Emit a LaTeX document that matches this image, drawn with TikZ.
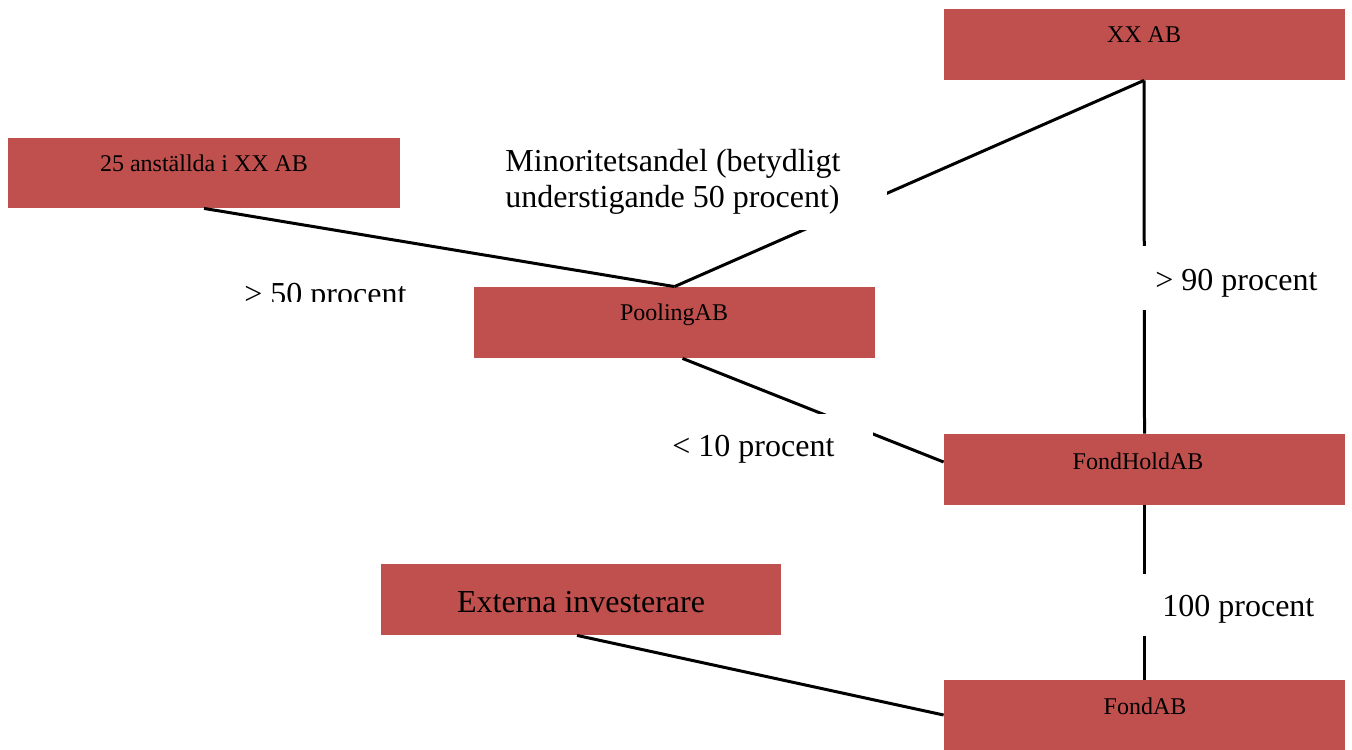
\documentclass[tikz,border=0pt]{standalone}
\usepackage{fontspec}
\setmainfont{Liberation Serif}
\usetikzlibrary{calc}
\definecolor{boxred}{HTML}{C0504D}
\tikzset{
  box/.style={draw=none, fill=boxred, rectangle, inner sep=0pt, minimum width=200.5pt, minimum height=35.5pt},
  smalltxt/.style={anchor=base, inner sep=0pt, font=\fontsize{12}{14}\selectfont},
  bigtxt/.style={anchor=base west, inner sep=0pt, font=\fontsize{16}{18}\selectfont},
  bigctr/.style={anchor=base, inner sep=0pt, font=\fontsize{16}{18}\selectfont},
  mask/.style={draw=none, fill=white, rectangle, inner sep=0pt},
  conn/.style={draw=black, line width=1.5pt}
}
\begin{document}
\begin{tikzpicture}[x=0.5pt, y=-0.5pt]
\useasboundingbox (0,0) rectangle (1352,749);
% boxes
\node[box] (xx) at (1144,44.5) {};
\node[box, minimum width=196pt, minimum height=35pt] (emp) at (204,173) {};
\node[box] (pool) at (674.5,322.5) {};
\node[box] (fh) at (1144.5,469.5) {};
\node[box, minimum width=200pt] (ext) at (581,599.5) {};
\node[box, minimum height=35pt] (fa) at (1144.5,715) {};
% box texts
\node[smalltxt] (xxt) at (1144,43) {XX AB};
\node[smalltxt] (empt) at (204,171) {25 anställda i XX AB};
\node[smalltxt] (poolt) at (674,320) {PoolingAB};
\node[smalltxt] (fht) at (1138,469) {FondHoldAB};
\node[bigctr] (extt) at (581,612) {Externa investerare};
\node[smalltxt] (fat) at (1145,714) {FondAB};
% connectors
\draw[conn] (emp.south) -- (pool.north);
\draw[conn] (pool.north) -- (xx.south);
\draw[conn] (xx.south) -- (fh.north);
\draw[conn] ($(pool.south)+(8,0)$) -- ($(fh.west)+(0,-7.5)$);
\draw[conn] (fh.south) -- (fa.north);
\draw[conn] ($(ext.south)+(-4,0)$) -- (fa.west);
% label masks
\node[mask, minimum width=196pt, minimum height=47.5pt] (minmask) at (691,182.5) {};
\node[mask, minimum width=102pt, minimum height=32pt] (m90) at (1238,278) {};
\node[mask, minimum width=109pt, minimum height=29pt] (m10) at (764,443) {};
\node[mask, minimum width=102pt, minimum height=31pt] (m100) at (1238,605) {};
% labels
\node[bigtxt] (min1) at (505,171) {Minoritetsandel (betydligt};
\node[bigtxt] (min2) at (505,207) {understigande 50 procent)};
\node[bigtxt] (l90) at (1155,290) {> 90 procent};
\node[bigtxt] (l10) at (672,456) {< 10 procent};
\node[bigtxt] (l100) at (1162,616) {100 procent};
\begin{scope}
\clip (230,262) rectangle (420,301);
\node[bigtxt] (l50) at (244,304) {> 50 procent};
\end{scope}
\end{tikzpicture}
\end{document}
